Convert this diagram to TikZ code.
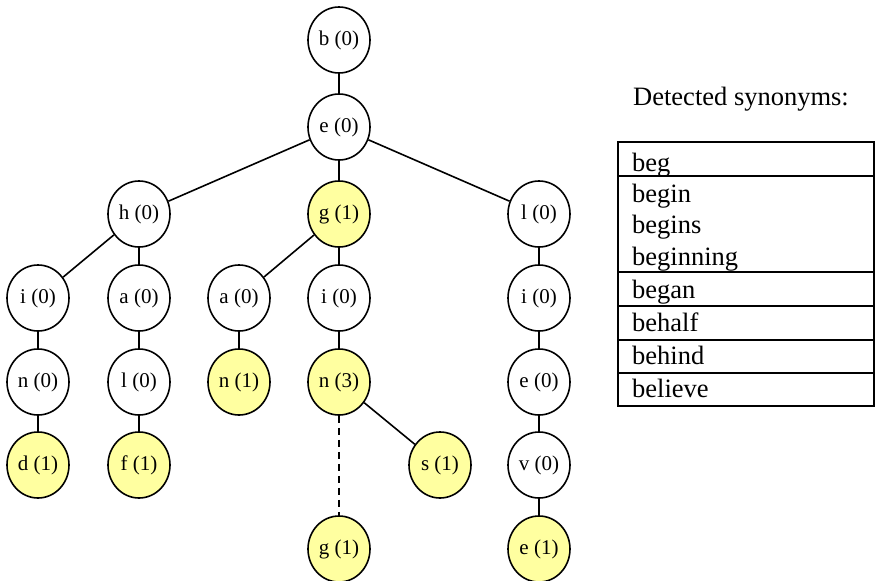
\documentclass[tikz,border=0pt]{standalone}
\usepackage{fontspec}
\setmainfont{Liberation Serif}
\usetikzlibrary{shapes.geometric}
\definecolor{nodeyellow}{RGB}{255,255,160}
\tikzset{
  tnode/.style={ellipse, draw=black, line width=1.6pt, fill=white, minimum width=62pt, minimum height=66pt, inner sep=0pt, font=\fontsize{21}{23}\selectfont},
  hit/.style={tnode, fill=nodeyellow},
  conn/.style={line width=1.6pt},
  syn/.style={anchor=base west, inner sep=0pt, font=\fontsize{26.5}{28}\selectfont},
  tline/.style={line width=1.6pt}
}
\begin{document}
\begin{tikzpicture}[x=1pt,y=-1pt]
\useasboundingbox (0,0) rectangle (876,581);
% tree nodes
\node[tnode] (b) at (339,40) {b (0)};
\node[tnode] (e) at (339,127) {e (0)};
\node[tnode] (h) at (139,214) {h (0)};
\node[hit]   (g) at (339,214) {g (1)};
\node[tnode] (l) at (539,214) {l (0)};
\node[tnode] (hi) at (38,298) {i (0)};
\node[tnode] (ha) at (139,298) {a (0)};
\node[tnode] (ga) at (239,298) {a (0)};
\node[tnode] (gi) at (339,298) {i (0)};
\node[tnode] (li) at (539,298) {i (0)};
\node[tnode] (hin) at (38,382) {n (0)};
\node[tnode] (hal) at (139,382) {l (0)};
\node[hit]   (gan) at (239,382) {n (1)};
\node[hit]   (gin) at (339,382) {n (3)};
\node[tnode] (lie) at (539,382) {e (0)};
\node[hit]   (hind) at (38,465) {d (1)};
\node[hit]   (half) at (139,465) {f (1)};
\node[hit]   (gins) at (440,465) {s (1)};
\node[tnode] (liev) at (539,465) {v (0)};
\node[hit]   (ging) at (339,549) {g (1)};
\node[hit]   (lieve) at (539,549) {e (1)};
% connectors
\draw[conn] (b) -- (e);
\draw[conn] (e) -- (h);
\draw[conn] (e) -- (g);
\draw[conn] (e) -- (l);
\draw[conn] (h) -- (hi);
\draw[conn] (h) -- (ha);
\draw[conn] (g) -- (ga);
\draw[conn] (g) -- (gi);
\draw[conn] (l) -- (li);
\draw[conn] (hi) -- (hin);
\draw[conn] (ha) -- (hal);
\draw[conn] (ga) -- (gan);
\draw[conn] (gi) -- (gin);
\draw[conn] (li) -- (lie);
\draw[conn] (hin) -- (hind);
\draw[conn] (hal) -- (half);
\draw[conn] (gin) -- (gins);
\draw[conn] (lie) -- (liev);
\draw[conn,dashed,dash pattern=on 7pt off 5pt] (gin) -- (ging);
\draw[conn] (liev) -- (lieve);
% synonyms table
\node[syn] (title) at (633,105) {Detected synonyms:};
\draw[tline] (618,142) rectangle (874,406);
\draw[tline] (618,176) -- (874,176);
\draw[tline] (618,272) -- (874,272);
\draw[tline] (618,306) -- (874,306);
\draw[tline] (618,340) -- (874,340);
\draw[tline] (618,373) -- (874,373);
\node[syn] (s1) at (632,171) {beg};
\node[syn] (s2) at (632,202) {begin};
\node[syn] (s3) at (632,233) {begins};
\node[syn] (s4) at (632,265) {beginning};
\node[syn] (s5) at (632,298) {began};
\node[syn] (s6) at (632,331) {behalf};
\node[syn] (s7) at (632,364) {behind};
\node[syn] (s8) at (632,397) {believe};
\end{tikzpicture}
\end{document}
